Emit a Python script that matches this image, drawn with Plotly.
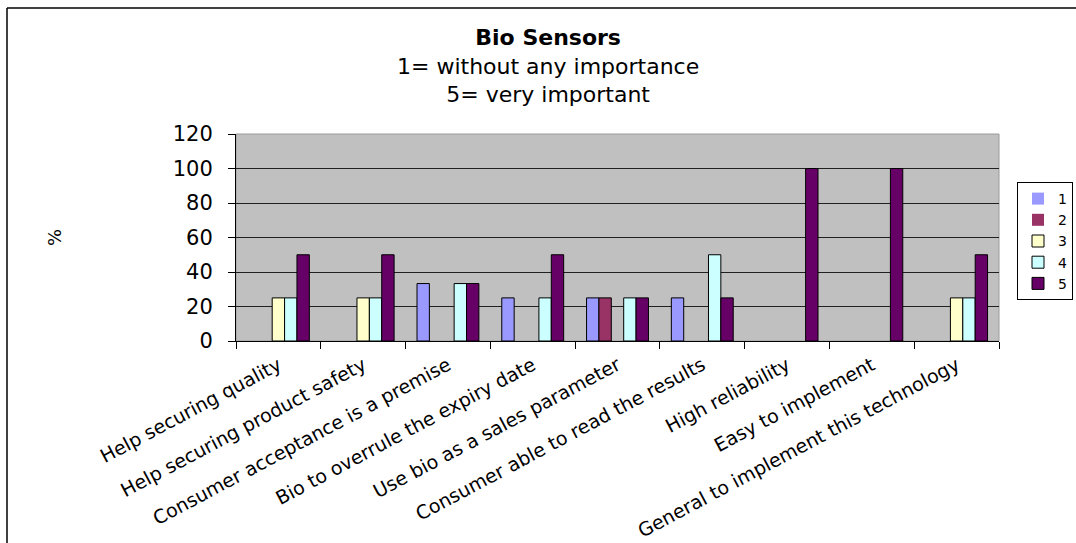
import plotly.graph_objects as go

# Survey answers per statement, share of respondents (%) for each rating 1..5
categories = [
    "Help securing quality",
    "Help securing product safety",
    "Consumer acceptance is a premise",
    "Bio to overrule the expiry date",
    "Use bio as a sales parameter",
    "Consumer able to read the results",
    "High reliability",
    "Easy to implement",
    "General to implement this technology",
]
rating_1 = [0, 0, 33.3, 25, 25, 25, 0, 0, 0]
rating_2 = [0, 0, 0, 0, 25, 0, 0, 0, 0]
rating_3 = [25, 25, 0, 0, 0, 0, 0, 0, 25]
rating_4 = [25, 25, 33.3, 25, 25, 50, 0, 0, 25]
rating_5 = [50, 50, 33.3, 50, 25, 25, 100, 100, 50]
series_names = ["1", "2", "3", "4", "5"]
y_ticks = [0, 20, 40, 60, 80, 100, 120]

colors = ["#9999FF", "#993366", "#FFFFCC", "#CCFFFF", "#660066"]
FONT = "DejaVu Sans"

W, H = 1076, 543
L, R, T, B = 236, 77, 134, 202
pw, ph = W - L - R, H - T - B


def px(x):
    return (x - L) / pw


def py(y):
    return (H - B - y) / ph


fig = go.Figure()
for name, vals, col in zip(series_names,
                           [rating_1, rating_2, rating_3, rating_4, rating_5],
                           colors):
    fig.add_trace(go.Bar(
        x=categories, y=vals, name=name,
        marker=dict(color=col,
                    line=dict(color="black",
                              width=[1 if v > 0 else 0 for v in vals])),
    ))

fig.update_layout(
    width=W, height=H,
    margin=dict(l=L, r=R, t=T, b=B, autoexpand=False),
    paper_bgcolor="white",
    plot_bgcolor="#C0C0C0",
    barmode="group",
    bargap=0.27,
    bargroupgap=0,
    font=dict(family=FONT, color="black"),
    showlegend=True,
    legend=dict(
        x=px(1017), y=py(182), xanchor="left", yanchor="top",
        bgcolor="white", bordercolor="black", borderwidth=1,
        font=dict(size=14, family=FONT, color="black"),
        traceorder="normal", itemwidth=30,
    ),
    xaxis=dict(
        type="category", automargin=False,
        tickangle=-28,
        tickfont=dict(size=19, family=FONT, color="black"),
        ticks="outside", tickson="boundaries", ticklen=7, tickcolor="black",
        ticklabelstandoff=5,
        showline=True, linecolor="black", linewidth=1,
        showgrid=False, zeroline=False,
    ),
    yaxis=dict(
        range=[0, 120], automargin=False,
        tickvals=y_ticks,
        tickfont=dict(size=21, family=FONT, color="black"),
        ticks="outside", ticklen=7, tickcolor="black",
        ticklabelstandoff=11,
        showline=True, linecolor="black", linewidth=1,
        showgrid=True, gridcolor="#202020", gridwidth=1,
        zeroline=False,
    ),
)

# Title block (three centred lines)
fig.add_annotation(
    text="<b>Bio Sensors</b><br>1= without any importance<br>5= very important",
    x=px(548), y=py(66), xref="paper", yref="paper",
    xanchor="center", yanchor="middle", showarrow=False, align="center",
    font=dict(size=22, family=FONT, color="black"),
)

# Y axis title
fig.add_annotation(
    text="%", x=px(54), y=py(238), xref="paper", yref="paper",
    xanchor="center", yanchor="middle", showarrow=False, textangle=-90,
    font=dict(size=18, family=FONT, color="black"),
)

# Plot-area outline
fig.add_shape(type="rect", xref="paper", yref="paper", x0=0, y0=0, x1=1, y1=1,
              line=dict(color="#9a9a9a", width=1), layer="below")

# Chart frame lines along the top and left edges
fig.add_shape(type="line", xref="paper", yref="paper",
              x0=px(7), y0=py(8), x1=px(1076), y1=py(8),
              line=dict(color="black", width=1.5))
fig.add_shape(type="line", xref="paper", yref="paper",
              x0=px(7), y0=py(8), x1=px(7), y1=py(543),
              line=dict(color="black", width=1.5))

fig.write_html("out.html")
